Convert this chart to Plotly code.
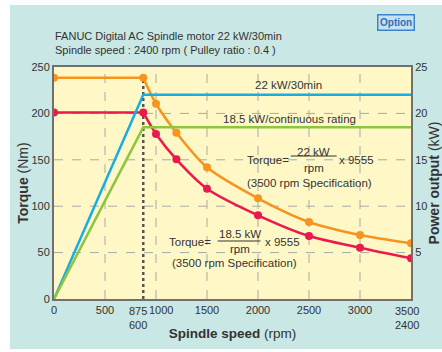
import plotly.graph_objects as go

# ---------------- data ----------------
speed_rpm = [0, 875, 1000, 1200, 1500, 2000, 2500, 3000, 3500]
torque_30min = [238.5, 238.5, 210.4, 179.2, 141.9, 108.5, 83.0, 69.0, 60.0]
torque_cont = [201.0, 201.0, 177.8, 150.5, 118.9, 90.2, 67.9, 55.3, 43.8]

power_speed = [0, 875, 3500]
power_30min = [0, 22.0, 22.0]
power_cont = [0, 18.5, 18.5]

x_tickvals = [0, 500, 1000, 1500, 2000, 2500, 3000, 3500]
x_ticktext = ["0", "500", "", "1500", "2000", "2500", "3000", ""]
base_speed_label = "875<br>600"
label_1000 = "1000"
max_speed_label = "3500<br>2400"
y_tickvals = [0, 50, 100, 150, 200, 250]
y2_tickvals = [5, 10, 15, 20, 25]

# ---------------- style ----------------
ORANGE = "#f7941d"
RED = "#ea1a4c"
BLUE = "#16ade6"
GREEN = "#8cc63f"
TEAL = "#c9e7e4"
YELLOW = "#fff8c6"
GRID = "#a8a8a8"
AXIS = "#707070"
TXT = "#333333"
FONT = "Liberation Sans, Arial, sans-serif"
FS = 11.5

W, H = 442, 352
L, R, T, B = 54, 31, 67, 53
PW, PH = W - L - R, H - T - B


def px(x):
    return (x - L) / PW


def py(y):
    return (H - B - y) / PH


fig = go.Figure()

# power curves (right axis)
fig.add_trace(go.Scatter(x=power_speed, y=power_30min, yaxis="y2", mode="lines",
                         line=dict(color=BLUE, width=2.5), showlegend=False))
fig.add_trace(go.Scatter(x=power_speed, y=power_cont, yaxis="y2", mode="lines",
                         line=dict(color=GREEN, width=2.5), showlegend=False))

# dotted base-speed line
fig.add_trace(go.Scatter(x=[speed_rpm[1], speed_rpm[1]], y=[0, torque_30min[1]], mode="lines",
                         line=dict(color="#555555", width=2.5, dash="dot"), showlegend=False))

# torque curves: flat part (linear) + hyperbolic part (smooth)
for ys, col in [(torque_30min, ORANGE), (torque_cont, RED)]:
    fig.add_trace(go.Scatter(x=speed_rpm[:2], y=ys[:2], mode="lines",
                             line=dict(color=col, width=2.5), showlegend=False))
    fig.add_trace(go.Scatter(x=speed_rpm[1:], y=ys[1:], mode="lines",
                             line=dict(color=col, width=2.5, shape="spline", smoothing=0.8),
                             showlegend=False))
    fig.add_trace(go.Scatter(x=speed_rpm, y=ys, mode="markers",
                             marker=dict(color=col, size=8), showlegend=False))

ann = []


def text(x, y, s, size=FS, color=TXT, **kw):
    ann.append(dict(x=px(x), y=py(y), xref="paper", yref="paper", text=s, showarrow=False,
                    font=dict(family=FONT, size=size, color=color), xanchor="center",
                    yanchor="middle", borderpad=0, **kw))


text(288, 85, "22 kW/30min")
text(289.7, 119.3, "18.5 kW/continuous rating")
# formula 1
text(267.7, 160, "Torque=")
text(313.8, 151.7, "22 kW")
text(313.7, 167.7, "rpm")
text(356.7, 160, "x 9555")
text(309.3, 183.3, "(3500 rpm Specification)")
# formula 2
text(190, 241.7, "Torque=")
text(240, 233.5, "18.5 kW")
text(240, 249.3, "rpm")
text(282.5, 241.7, "x 9555")
text(234, 263.3, "(3500 rpm Specification)")

# special x tick labels (placed like the original artwork)
text(137.5, 318, base_speed_label, size=11)
text(161, 310, label_1000, size=11)
text(406.5, 318, max_speed_label, size=11)

# Option badge
ann.append(dict(x=px(396.2), y=py(22), xref="paper", yref="paper", text="<b>Option</b>",
                showarrow=False, font=dict(family=FONT, size=10, color="#2f6fb8"),
                bgcolor="#c4e2f4", bordercolor="#3d83c9", borderwidth=1.5, borderpad=1.5,
                xanchor="center", yanchor="middle"))

shapes = [
    # white margins outside the teal panel
    dict(type="rect", xref="paper", yref="paper", x0=px(0), x1=px(10), y0=py(H), y1=py(0),
         fillcolor="white", line=dict(width=0)),
    dict(type="rect", xref="paper", yref="paper", x0=px(0), x1=px(W), y0=py(5), y1=py(0),
         fillcolor="white", line=dict(width=0)),
    dict(type="rect", xref="paper", yref="paper", x0=px(0), x1=px(W), y0=py(H), y1=py(349),
         fillcolor="white", line=dict(width=0)),
    # fraction bars
    dict(type="line", xref="paper", yref="paper", x0=px(290.7), x1=px(336.7), y0=py(156), y1=py(156),
         line=dict(color=TXT, width=1)),
    dict(type="line", xref="paper", yref="paper", x0=px(217.7), x1=px(260.5), y0=py(241), y1=py(241),
         line=dict(color=TXT, width=1)),
]

fig.update_layout(
    width=W, height=H,
    margin=dict(l=L, r=R, t=T, b=B, pad=0, autoexpand=False),
    paper_bgcolor=TEAL, plot_bgcolor=YELLOW,
    title=dict(text="FANUC Digital AC Spindle motor 22 kW/30min<br>Spindle speed : 2400 rpm ( Pulley ratio : 0.4 )",
               x=55 / W, xanchor="left", xref="container", y=1 - 40 / H, yref="container",
               yanchor="middle", pad=dict(l=0, r=0, t=0, b=0),
               font=dict(family=FONT, size=11, color=TXT)),
    xaxis=dict(range=[0, 3500], tickvals=x_tickvals, ticktext=x_ticktext, tickangle=0,
               automargin=False,
               showgrid=False, zeroline=False, showline=True, linecolor=AXIS, linewidth=2,
               mirror=True, ticks="", tickfont=dict(family=FONT, size=11, color=TXT),
               title=dict(text="<b>Spindle speed</b> (rpm)", standoff=13,
                          font=dict(family=FONT, size=13.5, color=TXT))),
    yaxis=dict(range=[0, 250], tickvals=y_tickvals, showgrid=False, zeroline=False,
               automargin=False,
               showline=True, linecolor=AXIS, linewidth=2, ticks="",
               tickfont=dict(family=FONT, size=11, color=TXT),
               title=dict(text="<b>Torque</b> (Nm)", standoff=0,
                          font=dict(family=FONT, size=14, color=TXT))),
    yaxis2=dict(range=[0, 25], tickvals=y2_tickvals, overlaying="y", side="right",
                automargin=False,
                showgrid=False, zeroline=False, showline=True, linecolor=AXIS, linewidth=2,
                ticks="", tickfont=dict(family=FONT, size=11, color=TXT),
                title=dict(text="<b>Power output</b> (kW)", standoff=7,
                           font=dict(family=FONT, size=14, color=TXT))),
    annotations=ann,
    shapes=shapes,
    showlegend=False,
)

# dashed grid drawn beneath the data
for v in [500, 1000, 1500, 2000, 2500, 3000]:
    fig.add_shape(type="line", xref="x", yref="paper", x0=v, x1=v, y0=0, y1=1,
                  line=dict(color=GRID, width=1, dash="dash"), layer="below")
for v in [50, 100, 150, 200]:
    fig.add_shape(type="line", xref="paper", yref="y", x0=0, x1=1, y0=v, y1=v,
                  line=dict(color=GRID, width=1, dash="dash"), layer="below")

fig.write_html("out.html", config={"displayModeBar": False},
               post_script="document.body.style.margin='0';document.body.style.overflow='hidden';")
